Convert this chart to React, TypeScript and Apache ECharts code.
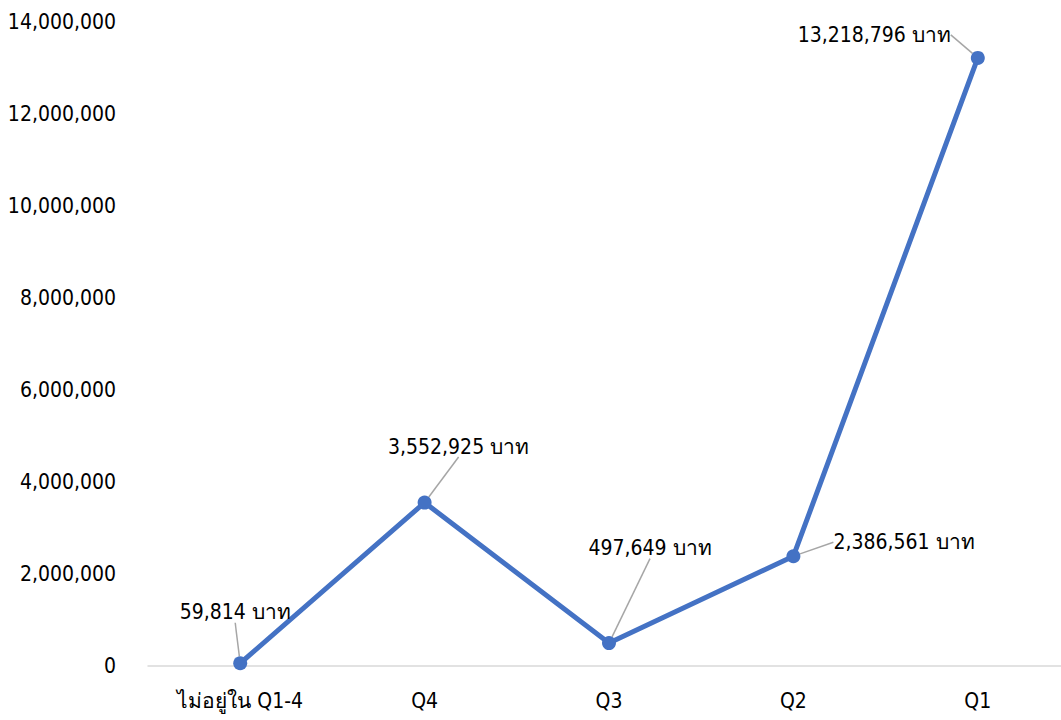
import React, { useEffect, useRef } from "react";
import * as echarts from "echarts";

const categories = ["ไม่อยู่ใน Q1-4", "Q4", "Q3", "Q2", "Q1"];
const values = [59814, 3552925, 497649, 2386561, 13218796];
const unit = "บาท";

// label placement relative to each point: [dx, dy, align]
const labelPlacement: [number, number, string][] = [
  [-5, -51, "center"],
  [34, -56, "center"],
  [41, -95, "center"],
  [40, -14, "left"],
  [-27, -23, "right"],
];

const FONT = "'DejaVu Sans Condensed', 'DejaVu Sans', sans-serif";
const fmt = (v: number) => v.toLocaleString("en-US");

export default function App() {
  const ref = useRef<HTMLDivElement>(null);
  useEffect(() => {
    if (!ref.current) return;
    const chart = echarts.init(ref.current, undefined, { renderer: "svg" });
    chart.setOption({
      animation: false,
      backgroundColor: "#ffffff",
      grid: { left: 148, right: 0, top: 22, bottom: 54 },
      xAxis: {
        type: "category",
        data: categories,
        boundaryGap: true,
        axisLine: { show: true, lineStyle: { color: "#d9d9d9", width: 1.5 } },
        axisTick: { show: false },
        axisLabel: { color: "#000", fontSize: 21, fontFamily: FONT, margin: 24 },
        splitLine: { show: false },
      },
      yAxis: {
        type: "value",
        min: 0,
        max: 14000000,
        interval: 2000000,
        axisLine: { show: false },
        axisTick: { show: false },
        splitLine: { show: false },
        axisLabel: {
          color: "#000",
          fontSize: 21,
          fontFamily: FONT,
          margin: 32,
          padding: [0, 0, 6, 0],
          formatter: (v: number) => fmt(v),
        },
      },
      series: [
        {
          type: "line",
          data: values,
          symbol: "circle",
          symbolSize: 14,
          lineStyle: { color: "#4472C4", width: 5 },
          itemStyle: { color: "#4472C4" },
          label: {
            show: true,
            position: "top",
            color: "#000",
            fontSize: 21,
            fontFamily: FONT,
            formatter: (p: any) => `${fmt(p.value)} ${unit}`,
          },
          labelLine: { show: true, lineStyle: { color: "#a6a6a6", width: 1.5 } },
          labelLayout: (params: any) => {
            const r = params.rect;
            const cx = r.x + r.width / 2;
            const cy = r.y + r.height / 2;
            const [dx, dy, align] = labelPlacement[params.dataIndex];
            return { x: cx + dx, y: cy + dy, align, verticalAlign: "middle" };
          },
        },
      ],
    });
    return () => chart.dispose();
  }, []);
  return (
    <div
      ref={ref}
      style={{ position: "fixed", left: 0, top: 0, width: 1070, height: 720 }}
    />
  );
}
